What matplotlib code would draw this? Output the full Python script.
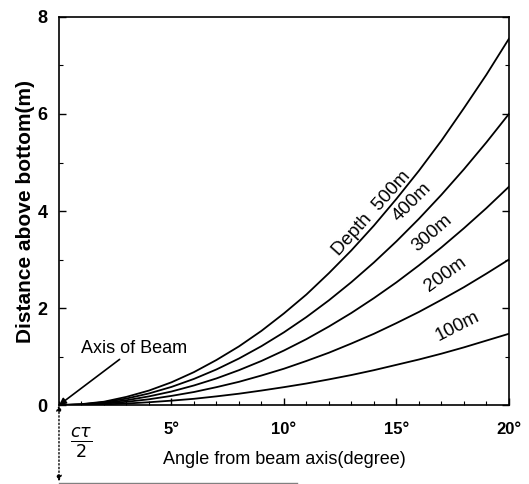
import matplotlib
matplotlib.use('Agg')
import matplotlib.pyplot as plt
from matplotlib.ticker import MultipleLocator

plt.rcParams['font.family'] = ['Liberation Sans', 'DejaVu Sans']

# angle from beam axis (degree)
angle = list(range(0, 21))
# distance above bottom (m) for each depth
d500 = [0, 0.02, 0.07, 0.17, 0.30, 0.47, 0.68, 0.93, 1.21, 1.53, 1.89,
        2.28, 2.72, 3.19, 3.70, 4.25, 4.83, 5.45, 6.12, 6.81, 7.55]
d400 = [0, 0.015, 0.06, 0.135, 0.24, 0.375, 0.54, 0.735, 0.96, 1.215, 1.50,
        1.815, 2.16, 2.535, 2.94, 3.375, 3.84, 4.335, 4.86, 5.415, 6.00]
d300 = [0, 0.01, 0.045, 0.10, 0.18, 0.28, 0.405, 0.55, 0.72, 0.91, 1.125,
        1.36, 1.62, 1.90, 2.205, 2.53, 2.88, 3.25, 3.645, 4.06, 4.50]
d200 = [0, 0.008, 0.03, 0.068, 0.12, 0.19, 0.27, 0.37, 0.48, 0.61, 0.75,
        0.91, 1.08, 1.27, 1.47, 1.69, 1.92, 2.17, 2.43, 2.71, 3.00]
d100 = [0, 0.004, 0.015, 0.033, 0.059, 0.092, 0.13, 0.18, 0.235, 0.30, 0.37,
        0.445, 0.53, 0.62, 0.72, 0.83, 0.94, 1.06, 1.19, 1.33, 1.47]

xticks = [5, 10, 15, 20]
xticklabels = ['5°', '10°', '15°', '20°']
yticks = [0, 2, 4, 6, 8]

fig = plt.figure(figsize=(5.29, 4.84), dpi=100)
ax = fig.add_axes([0.1115, 0.163, 0.8505, 0.802])

for d in [d500, d400, d300, d200, d100]:
    ax.plot(angle, d, color='black', lw=1.3)

ax.set_xlim(0, 20)
ax.set_ylim(0, 8)
ax.set_xticks(xticks)
ax.set_xticklabels(xticklabels, fontsize=12, fontweight='bold')
ax.set_yticks(yticks)
ax.set_yticklabels([str(v) for v in yticks], fontsize=13, fontweight='bold')
ax.xaxis.set_minor_locator(MultipleLocator(1))
ax.yaxis.set_minor_locator(MultipleLocator(1))
ax.tick_params(which='both', direction='in', right=True, top=False)
ax.tick_params(which='major', length=5, width=1)
ax.tick_params(which='minor', length=3, width=0.8)
ax.tick_params(axis='x', which='major', pad=12)
ax.tick_params(axis='y', which='major', pad=8)
for s in ax.spines.values():
    s.set_linewidth(1.2)

ax.set_xlabel('Angle from beam axis(degree)', fontsize=13, labelpad=10)
ax.set_ylabel('Distance above bottom(m)', fontsize=15, fontweight='bold', labelpad=2)

# depth labels
ax.text(13.9, 3.95, 'Depth  500m', rotation=48, fontsize=13.5, ha='center', va='center')
ax.text(15.7, 4.19, '400m', rotation=45, fontsize=13.5, ha='center', va='center')
ax.text(16.6, 3.54, '300m', rotation=41, fontsize=13.5, ha='center', va='center')
ax.text(17.2, 2.70, '200m', rotation=36, fontsize=13.5, ha='center', va='center')
ax.text(17.7, 1.63, '100m', rotation=27, fontsize=13.5, ha='center', va='center')

# axis of beam
ax.annotate('Axis of Beam', xy=(0, 0), xytext=(1.0, 1.0), fontsize=13,
            ha='left', va='bottom',
            arrowprops=dict(arrowstyle='-|>', color='black', lw=1.2, shrinkA=0, shrinkB=0,
                            mutation_scale=10),
            annotation_clip=False)

# pulse length marker below the axis
ax.annotate('', xy=(0, 0), xytext=(0, -1.57),
            arrowprops=dict(arrowstyle='<|-|>', color='black', lw=1, linestyle=':',
                            shrinkA=0, shrinkB=0, mutation_scale=8),
            annotation_clip=False)
ax.text(0.98, -0.78, r'$\frac{c\tau}{2}$', fontsize=18, ha='center', va='center')
ax.plot([0, 10.6], [-1.61, -1.61], color='gray', lw=1, clip_on=False)

fig.savefig('out.png', dpi=100)
